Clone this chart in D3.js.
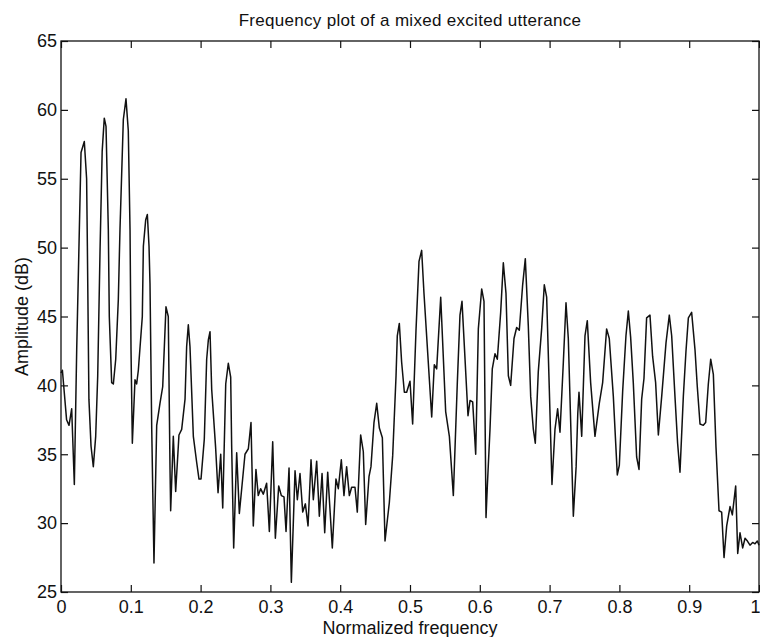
<!DOCTYPE html>
<html>
<head>
<meta charset="utf-8">
<script src="https://cdn.jsdelivr.net/npm/d3@7"></script>
<style>
  body { margin: 0; background: #fff; }
  svg text { font-family: "Liberation Sans", Arial, sans-serif; fill: #111; }
</style>
</head>
<body>
<svg id="chart" width="760" height="637"></svg>
<script>
// values
let title = "Frequency plot of a mixed excited utterance";
let x_label = "Normalized frequency";
let y_label = "Amplitude (dB)";

let x_ticks = [0, 0.1, 0.2, 0.3, 0.4, 0.5, 0.6, 0.7, 0.8, 0.9, 1];
let y_ticks = [25, 30, 35, 40, 45, 50, 55, 60, 65];

let freq = [
  0.000, 0.002, 0.008, 0.0115, 0.0153, 0.0191, 0.0225, 0.0287, 0.0334, 0.0367,
  0.0378, 0.040, 0.043, 0.0463, 0.0497, 0.0526, 0.056, 0.059, 0.062, 0.0645,
  0.0678, 0.0692, 0.0726, 0.075, 0.0784, 0.0821, 0.0845, 0.0893, 0.0931, 0.0964,
  0.0989, 0.1003, 0.1022, 0.106, 0.1084, 0.1108, 0.1165, 0.118, 0.1213, 0.1237,
  0.1261, 0.1275, 0.130, 0.1332, 0.1371, 0.1418, 0.1457, 0.1504, 0.1537, 0.1562,
  0.1571, 0.1609, 0.1643, 0.169, 0.1729, 0.1777, 0.180, 0.1824, 0.1848, 0.1896,
  0.1944, 0.1977, 0.2006, 0.2053, 0.2087, 0.2111, 0.2135, 0.2159, 0.2215, 0.225,
  0.2288, 0.2317, 0.236, 0.2397, 0.2431, 0.2445, 0.2474, 0.2517, 0.2555, 0.2636,
  0.2684, 0.2722, 0.2755, 0.2793, 0.2826, 0.286, 0.2898, 0.2946, 0.2985, 0.3033,
  0.3071, 0.3119, 0.3157, 0.3195, 0.3224, 0.3267, 0.330, 0.3353, 0.3386, 0.3424,
  0.3463, 0.3501, 0.3539, 0.3582, 0.3615, 0.3663, 0.3701, 0.374, 0.3778, 0.3821,
  0.3887, 0.3939, 0.3973, 0.4016, 0.4054, 0.4092, 0.4131, 0.4164, 0.4212, 0.4245,
  0.4293, 0.4331, 0.4365, 0.4413, 0.4441, 0.4484, 0.4523, 0.4561, 0.4604, 0.4642,
  0.4704, 0.4752, 0.480, 0.4818, 0.4847, 0.488, 0.4919, 0.4952, 0.500, 0.5038,
  0.5086, 0.5129, 0.5167, 0.520, 0.5311, 0.5348, 0.5382, 0.544, 0.5511, 0.5564,
  0.5621, 0.5678, 0.5716, 0.5745, 0.5831, 0.586, 0.5898, 0.5941, 0.5979, 0.6027,
  0.606, 0.6089, 0.6108, 0.6146, 0.6179, 0.6218, 0.6251, 0.6299, 0.6337, 0.6375,
  0.6409, 0.6442, 0.649, 0.6528, 0.6566, 0.6614, 0.6652, 0.6695, 0.6729, 0.6767,
  0.6795, 0.6838, 0.6886, 0.6924, 0.6958, 0.6996, 0.7034, 0.7077, 0.7115, 0.7149,
  0.7197, 0.7235, 0.7268, 0.7302, 0.734, 0.738, 0.7404, 0.7421, 0.7436, 0.746,
  0.7507, 0.754, 0.7588, 0.765, 0.7712, 0.776, 0.7817, 0.7855, 0.7913, 0.797,
  0.7999, 0.8047, 0.8094, 0.8128, 0.8161, 0.8199, 0.8247, 0.8281, 0.8319, 0.8352,
  0.839, 0.8438, 0.8476, 0.8519, 0.8558, 0.8606, 0.8668, 0.8715, 0.8749, 0.8796,
  0.8834, 0.8868, 0.8916, 0.8954, 0.8988, 0.9035, 0.9083, 0.9116, 0.9155, 0.9202,
  0.9236, 0.9274, 0.9308, 0.9346, 0.9384, 0.9427, 0.9465, 0.9499, 0.9537, 0.9585,
  0.9618, 0.9666, 0.9695, 0.9728, 0.9766, 0.980, 0.9834, 0.9871, 0.9909, 0.9943,
  0.9976, 1.000
];

let amp = [
  40.9, 41.1, 37.5, 37.1, 38.3, 32.8, 42.6, 56.9, 57.7, 55.0,
  50.0, 39.0, 35.6, 34.1, 36.3, 40.7, 50.0, 57.0, 59.4, 58.8,
  51.3, 45.0, 40.2, 40.1, 41.9, 46.2, 51.3, 59.3, 60.8, 58.5,
  51.3, 42.6, 35.8, 40.4, 40.1, 41.1, 45.0, 50.1, 52.0, 52.4,
  50.1, 47.4, 36.8, 27.1, 37.1, 38.7, 39.9, 45.7, 45.0, 33.9,
  30.9, 36.3, 32.3, 36.4, 36.8, 39.0, 42.8, 44.4, 42.8, 36.3,
  34.4, 33.2, 33.2, 36.1, 41.9, 43.3, 43.9, 39.7, 35.5, 32.2,
  35.0, 31.1, 40.1, 41.6, 40.6, 35.6, 28.2, 35.1, 30.7, 35.0,
  35.4, 37.3, 29.8, 33.9, 32.0, 32.5, 32.1, 32.9, 29.4, 35.9,
  28.9, 32.7, 32.0, 31.9, 29.4, 34.0, 25.7, 33.8, 31.7, 33.6,
  30.8, 31.4, 29.8, 34.6, 31.7, 34.5, 30.5, 33.6, 29.3, 33.7,
  28.2, 33.2, 32.5, 34.6, 32.0, 34.1, 32.0, 32.6, 32.6, 30.8,
  36.4, 35.2, 29.9, 33.4, 34.1, 37.3, 38.7, 36.9, 36.2, 28.7,
  31.5, 34.9, 40.7, 43.6, 44.5, 41.7, 39.5, 39.5, 40.3, 37.2,
  44.0, 49.0, 49.8, 46.7, 37.7, 41.5, 41.2, 46.4, 38.1, 36.3,
  32.0, 40.2, 45.1, 46.1, 37.8, 38.9, 38.8, 35.0, 44.1, 47.0,
  46.1, 30.4, 32.7, 36.8, 41.2, 42.3, 41.9, 45.3, 48.9, 46.7,
  40.7, 40.0, 43.4, 44.2, 44.0, 47.3, 49.2, 44.3, 39.2, 36.8,
  35.8, 41.0, 44.1, 47.3, 46.4, 39.7, 32.8, 36.8, 38.3, 36.6,
  41.7, 46.0, 43.4, 37.3, 30.5, 34.1, 38.0, 39.5, 38.3, 36.3,
  43.6, 44.7, 40.2, 36.3, 38.7, 40.2, 44.1, 43.4, 39.2, 33.5,
  34.2, 39.6, 43.6, 45.4, 43.5, 40.2, 34.8, 33.9, 39.0, 40.5,
  44.9, 45.1, 42.1, 40.2, 36.4, 39.2, 43.1, 45.1, 43.6, 39.2,
  35.8, 33.7, 39.2, 42.5, 44.9, 45.3, 42.6, 39.9, 37.2, 37.1,
  37.3, 40.1, 41.9, 40.8, 35.5, 30.9, 30.8, 27.5, 29.8, 31.2,
  30.6, 32.7, 27.8, 29.3, 28.2, 28.9, 28.7, 28.4, 28.6, 28.5,
  28.7, 28.4
];

let svg = d3.select("#chart");

let m_left = 61, m_right = 759, m_top = 41, m_bottom = 592;

let x = d3.scaleLinear().domain([0, 1]).range([m_left, m_right]);
let y = d3.scaleLinear().domain([25, 65]).range([m_bottom, m_top]);

let fmt = function (d) {
    return (d === 0 || d === 1) ? String(d) : d.toFixed(1);
};

// frame
svg.append("rect")
    .attr("x", m_left)
    .attr("y", m_top)
    .attr("width", m_right - m_left)
    .attr("height", m_bottom - m_top)
    .attr("fill", "none")
    .attr("stroke", "#111")
    .attr("stroke-width", 1.3);

// axes, ticks pointing inwards like matlab
let x_axis = d3.axisBottom(x).tickValues(x_ticks).tickFormat(fmt)
    .tickSizeInner(-7).tickSizeOuter(0).tickPadding(8);
let x_axis_top = d3.axisTop(x).tickValues(x_ticks).tickFormat("")
    .tickSizeInner(-7).tickSizeOuter(0);
let y_axis = d3.axisLeft(y).tickValues(y_ticks)
    .tickSizeInner(-7).tickSizeOuter(0).tickPadding(4);
let y_axis_right = d3.axisRight(y).tickValues(y_ticks).tickFormat("")
    .tickSizeInner(-7).tickSizeOuter(0);

function style_axis(g) {
    g.select(".domain").remove();
    g.selectAll("line").attr("stroke", "#111").attr("stroke-width", 1.2);
    g.selectAll("text")
        .style("font-family", "'Liberation Sans', Arial, sans-serif")
        .style("font-size", "18px")
        .attr("fill", "#111");
}

let gx = svg.append("g").attr("transform", "translate(0," + m_bottom + ")").call(x_axis).call(style_axis);
// last label sits on the page edge, keep it inside
gx.selectAll(".tick text").filter(function (d) { return d === 1; })
    .attr("text-anchor", "end").attr("x", 1);
svg.append("g").attr("transform", "translate(0," + m_top + ")").call(x_axis_top).call(style_axis);
svg.append("g").attr("transform", "translate(" + m_left + ",0)").call(y_axis).call(style_axis);
svg.append("g").attr("transform", "translate(" + m_right + ",0)").call(y_axis_right).call(style_axis);

// the spectrum
let pts = freq.map(function (f, i) { return [f, amp[i]]; });

let valueline = d3.line()
    .x(function (d) { return x(d[0]); })
    .y(function (d) { return y(d[1]); });

svg.append("path")
    .attr("fill", "none")
    .attr("stroke", "#111")
    .attr("stroke-width", 1.5)
    .attr("stroke-linejoin", "round")
    .attr("d", valueline(pts));

// labels
svg.append("text")
    .attr("x", (m_left + m_right) / 2)
    .attr("y", 26)
    .attr("text-anchor", "middle")
    .style("font-size", "17px")
    .style("letter-spacing", "0.3px")
    .text(title);

svg.append("text")
    .attr("x", (m_left + m_right) / 2)
    .attr("y", 634)
    .attr("text-anchor", "middle")
    .style("font-size", "18px")
    .text(x_label);

svg.append("text")
    .attr("transform", "translate(28," + (m_top + m_bottom) / 2 + ") rotate(-90)")
    .attr("text-anchor", "middle")
    .style("font-size", "18px")
    .text(y_label);
</script>
</body>
</html>
